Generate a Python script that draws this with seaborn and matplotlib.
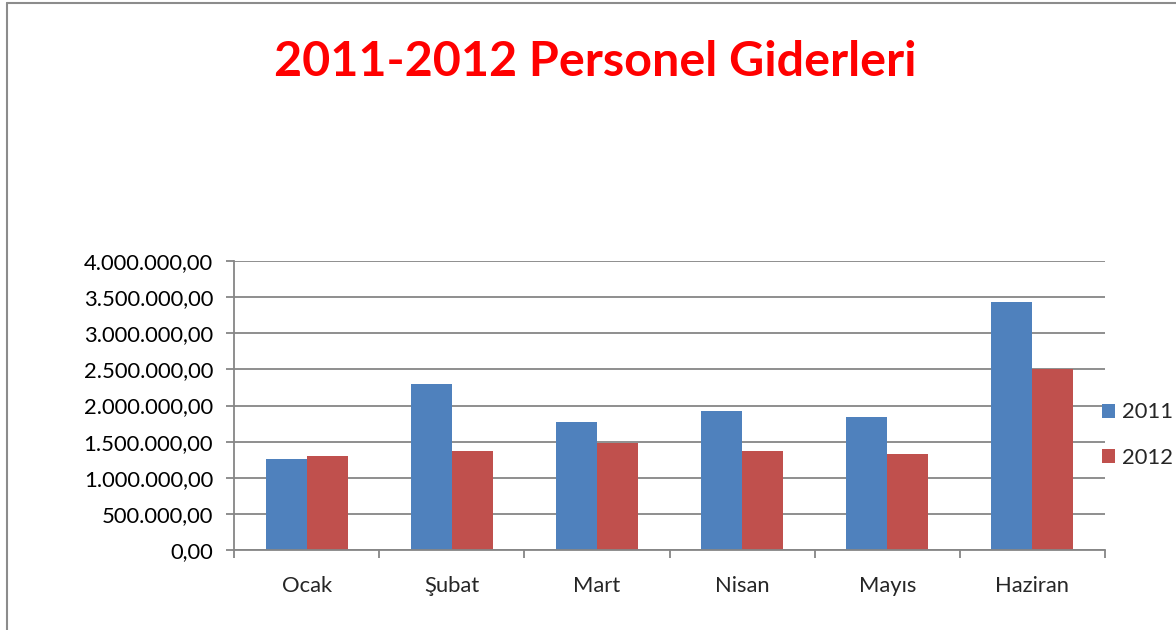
import numpy as np
import pandas as pd
import seaborn as sns
import matplotlib
matplotlib.use("Agg")
import matplotlib.pyplot as plt
from matplotlib.ticker import FuncFormatter, FixedLocator
from matplotlib.lines import Line2D

# values
months = ["Ocak", "Şubat", "Mart", "Nisan", "Mayıs", "Haziran"]
values_2011 = [1255000, 2300000, 1770000, 1920000, 1840000, 3430000]
values_2012 = [1300000, 1370000, 1485000, 1370000, 1330000, 2500000]
years = ["2011", "2012"]

df = pd.DataFrame({
    "ay": months * 2,
    "yil": [years[0]] * len(months) + [years[1]] * len(months),
    "tutar": values_2011 + values_2012,
})

sns.set_style("white")
plt.rcParams["font.family"] = ["Lato", "DejaVu Sans"]

fig = plt.figure(figsize=(11.76, 6.3), dpi=100)
ax = fig.add_axes([234 / 1176, 1 - 550 / 630, (1105 - 234) / 1176, (550 - 261) / 630])

sns.barplot(data=df, x="ay", y="tutar", hue="yil", order=months,
            palette=["#4F81BD", "#C0504D"], width=0.566, ax=ax,
            saturation=1, edgecolor="none", legend=True)

ax.set_ylim(0, 4000000)
ax.set_xlim(-0.5, len(months) - 0.5)
ax.set_yticks(np.arange(0, 4000001, 500000))
ax.yaxis.set_major_formatter(FuncFormatter(
    lambda v, p: f"{v:,.2f}".replace(",", "X").replace(".", ",").replace("X", ".")))
ax.grid(axis="y", color="#868686", linewidth=1.3)
ax.set_axisbelow(True)
ax.set_xlabel("")
ax.set_ylabel("")

for s in ["top", "right"]:
    ax.spines[s].set_visible(False)
for s in ["left", "bottom"]:
    ax.spines[s].set_color("#868686")
    ax.spines[s].set_linewidth(1.3)

fs = 15.8
ax.tick_params(axis="y", which="major", left=True, length=6, width=1.3,
               color="#868686", labelsize=fs, pad=9, labelcolor="#000000")
ax.tick_params(axis="x", which="major", bottom=False, labelsize=fs, pad=15)
ax.xaxis.set_minor_locator(FixedLocator(np.arange(-0.5, len(months), 1.0)))
ax.tick_params(axis="x", which="minor", bottom=True, length=6, width=1.3,
               color="#868686")

leg = ax.legend(loc="center left", bbox_to_anchor=(0.996, 0.398), frameon=False,
                fontsize=fs, handlelength=0.6, handleheight=0.6,
                labelspacing=1.15, handletextpad=0.35, borderaxespad=0.0,
                borderpad=0.0)

fig.suptitle("2011-2012 Personel Giderleri", x=0.506, y=0.937,
             fontsize=34.9, fontweight="bold", color="#FF0000")

# chart frame (left and top edges visible)
fig.add_artist(Line2D([7 / 1176, 7 / 1176], [-0.1, 1 - 3 / 630],
                      transform=fig.transFigure, color="#8c8c8c", linewidth=1.5))
fig.add_artist(Line2D([7 / 1176, 1.1], [1 - 3 / 630, 1 - 3 / 630],
                      transform=fig.transFigure, color="#8c8c8c", linewidth=1.5))

fig.savefig("out.png", dpi=100)
